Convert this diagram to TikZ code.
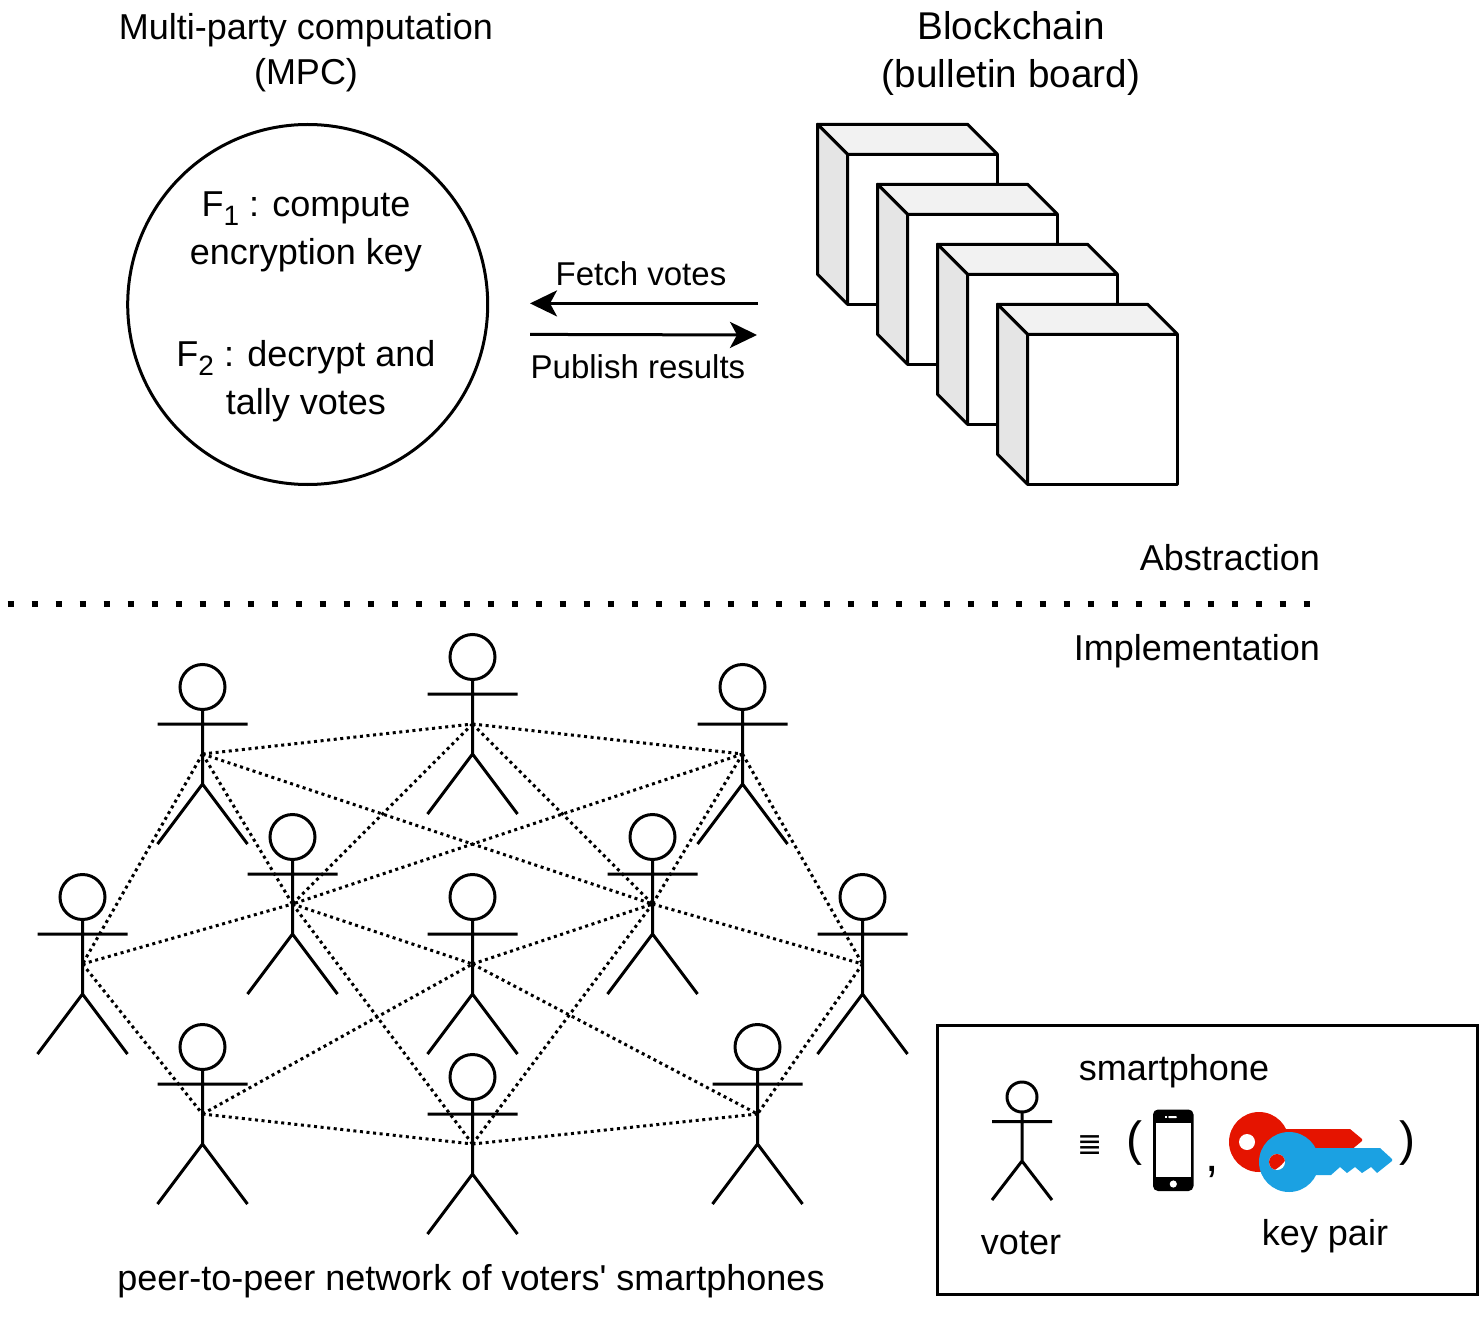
\documentclass[tikz,border=0pt]{standalone}
\usepackage{fontspec}
\setmainfont{Liberation Sans}
\newfontfamily\plainsans{Liberation Sans}
\newfontfamily\symfont{DejaVu Sans}
\usetikzlibrary{arrows.meta}
\definecolor{keyred}{HTML}{E51400}
\definecolor{keyblue}{HTML}{1BA1E2}
\newcommand{\stickman}[3]{% name, centre x, top y
  \coordinate (#1) at (#2-0.5,#3+90);
  \begin{scope}[shift={(#2-0.5,#3)}]
    \draw[figline] (0,23) circle[radius=22.5];
    \draw[figline] (0,45.5) -- (0,120) (-45,60) -- (45,60) (-45,180) -- (0,120) -- (45,180);
  \end{scope}}
\newcommand{\cubebox}[3]{% name, x, y
  \begin{scope}[shift={(#2-0.5,#3+0.3)}]
    \coordinate (#1) at (105,105);
    \draw[cubeline,fill=white] (30,30) rectangle (180,180);
    \draw[cubeline,fill=cubetop] (0,0) -- (150,0) -- (180,30) -- (30,30) -- cycle;
    \draw[cubeline,fill=cubeside] (0,0) -- (30,30) -- (30,180) -- (0,150) -- cycle;
  \end{scope}}
\newcommand{\subdigit}[1]{{\fontsize{28}{28}\selectfont\raisebox{-9pt}{#1}}}
\colorlet{cubetop}{black!5}
\colorlet{cubeside}{black!10}
\tikzset{
  x=1pt,y=-1pt,
  figline/.style={line width=3pt,black,line join=miter},
  cubeline/.style={line width=3pt,black,line join=round},
  peer/.style={line width=3pt,black,dash pattern=on 3pt off 3.6pt},
  flow/.style={line width=3pt,black,-{Stealth[length=27pt,width=26pt,inset=7pt]}},
  divider/.style={line width=6pt,black,dash pattern=on 6pt off 18pt},
  lab/.style={inner sep=0pt,outer sep=0pt,align=center,text=black},
  big/.style={lab,font=\fontsize{36}{48}\selectfont},
  mid/.style={lab,font=\fontsize{33}{40}\selectfont},
}
\begin{document}
\begin{tikzpicture}
\useasboundingbox (0,0) rectangle (1482,1329);
% top titles
\node[big,font=\fontsize{36}{45}\selectfont] (mpctitle) at (306,52.5) {Multi-party computation\\(MPC)};
\node[big,font=\fontsize{38.7}{48}\selectfont] (chaintitle) at (1011,53) {Blockchain\\(bulletin board)};
% MPC circle
\node[draw,line width=3pt,circle,minimum size=360pt,inner sep=0pt] (mpc) at (307.7,304.5) {};
\node[big] (f1) at (306,232) {F\subdigit{1} : compute\\encryption key};
\node[big] (f2) at (306,381) {F\subdigit{2} : decrypt and\\tally votes};
% cubes
\cubebox{c1}{818}{124}
\cubebox{c2}{878}{184}
\cubebox{c3}{938}{244}
\cubebox{c4}{998}{304}
% arrows
\coordinate (fa) at (758,303.4);
\coordinate (fb) at (530,303.4);
\coordinate (pa) at (530,334.4);
\coordinate (pb) at (757,335);
\draw[flow] (fa) -- (fb);
\draw[flow] (pa) -- (pb);
\node[mid] (fetch) at (641,274) {Fetch votes};
\node[mid] (publish) at (638,367) {Publish results};
% divider
\node[big,anchor=east] (abs) at (1320,558) {Abstraction};
\node[big,anchor=east] (impl) at (1320,651) {Implementation};
\coordinate (da) at (7.5,604);
\coordinate (db) at (1315,604);
\draw[divider] (da) -- (db);
% actors
\stickman{A}{203}{664}
\stickman{B}{473}{634}
\stickman{C}{743}{664}
\stickman{D}{293}{814}
\stickman{E}{653}{814}
\stickman{F}{83}{874}
\stickman{G}{473}{874}
\stickman{H}{863}{874}
\stickman{I}{203}{1024}
\stickman{J}{473}{1054}
\stickman{K}{758}{1024}
% peer links
\foreach \p/\q in {A/B,B/C,A/F,A/D,D/J,A/E,B/D,B/E,C/D,C/E,E/J,C/H,E/H,H/K,F/D,F/I,D/G,G/E,G/K,I/G,I/J,J/K}
  \draw[peer] (\p) -- (\q);
\node[big,font=\plainsans\fontsize{36}{48}\selectfont] (p2p) at (471,1281) {peer-to-peer network of voters' smartphones};
% legend
\node[draw,line width=3pt,minimum width=539.5pt,minimum height=269pt,inner sep=0pt] (legend) at (1207.7,1159.5) {};
\begin{scope}[shift={(1022,1082)}]
  \coordinate (voterhub) at (0,60);
  \draw[figline] (0,15) circle[radius=15];
  \draw[figline] (0,30) -- (0,79) (-30,39.5) -- (30,39.5) (-30,118) -- (0,79) -- (30,118);
\end{scope}
\node[big,font=\fontsize{36}{40}\selectfont] (smart) at (1174,1071) {smartphone};
\node[big,font=\fontsize{36}{40}\selectfont] (voter) at (1021,1243) {voter};
\node[big,font=\fontsize{36}{40}\selectfont] (keys) at (1325,1236) {key pair};
\node[lab,font=\symfont\fontsize{30}{32}\selectfont] (equiv) at (1090.5,1145) {≣};
\node[lab,font=\fontsize{48}{50}\selectfont] (lp) at (1134,1143) {(};
\node[lab,font=\fontsize{48}{50}\selectfont] (rp) at (1407.5,1143) {)};
\node[lab,font=\fontsize{48}{50}\selectfont] (comma) at (1212,1172) {,};
% phone
\fill[black,rounded corners=5pt] (1153,1109.5) rectangle (1193.5,1191);
\fill[white] (1156,1123) rectangle (1190.5,1177);
\fill[white,rounded corners=1pt] (1168,1116.2) rectangle (1177,1118);
\fill[white] (1165,1116.2) rectangle (1166.5,1118);
\fill[white] (1173.3,1184) circle[radius=3.6];
% red key
\fill[keyred] (1259,1142) circle[radius=30];
\fill[keyred] (1280,1129) -- (1350,1129) -- (1362,1139) -- (1362,1141) -- (1350,1151) -- (1280,1151) -- cycle;
\fill[white] (1247,1142) circle[radius=8];
% blue key
\fill[keyblue] (1289,1162) circle[radius=30];
\fill[keyblue] (1305,1148) -- (1380,1148) -- (1392,1159) -- (1392,1161) -- (1377,1173) -- (1371,1167) -- (1362,1173) -- (1355,1167) -- (1347,1173) -- (1340,1167) -- (1331,1175) -- (1305,1175) -- cycle;
\fill[white] (1277,1162) circle[radius=8];
\begin{scope}
  \clip (1277,1162) circle[radius=8];
  \fill[keyred] (1259,1142) circle[radius=32];
\end{scope}
\end{tikzpicture}
\end{document}
